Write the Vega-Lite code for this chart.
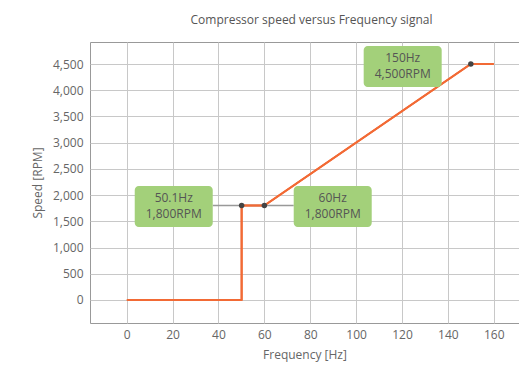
{
  "$schema": "https://vega.github.io/schema/vega-lite/v6.json",
  "autosize": {"type": "none"},
  "width": 429,
  "height": 281,
  "padding": {"left": 90, "top": 42, "right": 0, "bottom": 43},
  "background": "white",
  "title": {"text": "Compressor speed versus Frequency signal", "font": "Open Sans", "fontSize": 12, "fontWeight": "normal", "color": "#555", "anchor": "middle", "offset": 15, "dx": 7},
  "config": {
    "view": {"stroke": "#999", "strokeWidth": 1},
    "axis": {"labelFont": "Open Sans", "titleFont": "Open Sans", "labelColor": "#666", "titleColor": "#666", "labelFontSize": 12, "titleFontSize": 12, "titleFontWeight": "normal", "gridColor": "#c8c8c8", "gridOpacity": 1, "domain": false, "ticks": false, "labelOverlap": false},
    "axisX": {"values": [0, 20, 40, 60, 80, 100, 120, 140, 160], "labelPadding": 6, "titlePadding": 9},
    "axisY": {"values": [0, 500, 1000, 1500, 2000, 2500, 3000, 3500, 4000, 4500], "labelExpr": "format(datum.value, ',')", "labelPadding": 7, "titlePadding": 8}
  },
  "datasets": {
    "curve": [
      {"i": 1, "f": 0, "s": 0},
      {"i": 2, "f": 50.1, "s": 0},
      {"i": 3, "f": 50.1, "s": 1800},
      {"i": 4, "f": 60, "s": 1800},
      {"i": 5, "f": 150, "s": 4500},
      {"i": 6, "f": 160, "s": 4500}
    ],
    "pts": [
      {"f": 50.1, "s": 1800},
      {"f": 60, "s": 1800},
      {"f": 150, "s": 4500}
    ],
    "labels": [
      {"x1": 3.5, "x2": 37.5, "y1": 1392, "y2": 2174, "xc": 20.5, "yc": 1783, "t": "50.1Hz\n1,800RPM"},
      {"x1": 72.8, "x2": 106.8, "y1": 1392, "y2": 2174, "xc": 89.8, "yc": 1783, "t": "60Hz\n1,800RPM"},
      {"x1": 103.3, "x2": 137.3, "y1": 4062, "y2": 4844, "xc": 120.3, "yc": 4453, "t": "150Hz\n4,500RPM"}
    ],
    "conn": [
      {"a": 37.5, "b": 72.8, "s": 1800}
    ]
  },
  "layer": [
    {
      "data": {"name": "curve"},
      "mark": {"type": "line", "color": "#f26a35", "strokeWidth": 2},
      "encoding": {
        "x": {"field": "f", "type": "quantitative", "scale": {"domain": [-16, 171], "nice": false, "zero": false}, "title": "Frequency [Hz]"},
        "y": {"field": "s", "type": "quantitative", "scale": {"domain": [-440, 4920], "nice": false, "zero": false}, "title": "Speed [RPM]"},
        "order": {"field": "i", "type": "quantitative"}
      }
    },
    {
      "data": {"name": "conn"},
      "mark": {"type": "rule", "color": "#999", "strokeWidth": 1.5},
      "encoding": {
        "x": {"field": "a", "type": "quantitative", "title": "Frequency [Hz]"},
        "x2": {"field": "b"},
        "y": {"field": "s", "type": "quantitative", "title": "Speed [RPM]"}
      }
    },
    {
      "data": {"name": "curve"},
      "transform": [{"filter": "datum.i >= 2"}],
      "mark": {"type": "line", "color": "#f26a35", "strokeWidth": 2},
      "encoding": {
        "x": {"field": "f", "type": "quantitative", "title": "Frequency [Hz]"},
        "y": {"field": "s", "type": "quantitative", "title": "Speed [RPM]"},
        "order": {"field": "i", "type": "quantitative"}
      }
    },
    {
      "data": {"name": "pts"},
      "mark": {"type": "circle", "color": "#444", "size": 30, "opacity": 1},
      "encoding": {
        "x": {"field": "f", "type": "quantitative", "title": "Frequency [Hz]"},
        "y": {"field": "s", "type": "quantitative", "title": "Speed [RPM]"}
      }
    },
    {
      "data": {"name": "labels"},
      "mark": {"type": "rect", "color": "#a3d07a", "cornerRadius": 4},
      "encoding": {
        "x": {"field": "x1", "type": "quantitative", "title": "Frequency [Hz]"},
        "x2": {"field": "x2"},
        "y": {"field": "y1", "type": "quantitative", "title": "Speed [RPM]"},
        "y2": {"field": "y2"}
      }
    },
    {
      "data": {"name": "labels"},
      "mark": {"type": "text", "font": "Open Sans", "fontSize": 12, "color": "#555", "lineBreak": "\n", "lineHeight": 16, "baseline": "middle", "align": "center", "dy": -8},
      "encoding": {
        "x": {"field": "xc", "type": "quantitative", "title": "Frequency [Hz]"},
        "y": {"field": "yc", "type": "quantitative", "title": "Speed [RPM]"},
        "text": {"field": "t", "type": "nominal"}
      }
    }
  ]
}
